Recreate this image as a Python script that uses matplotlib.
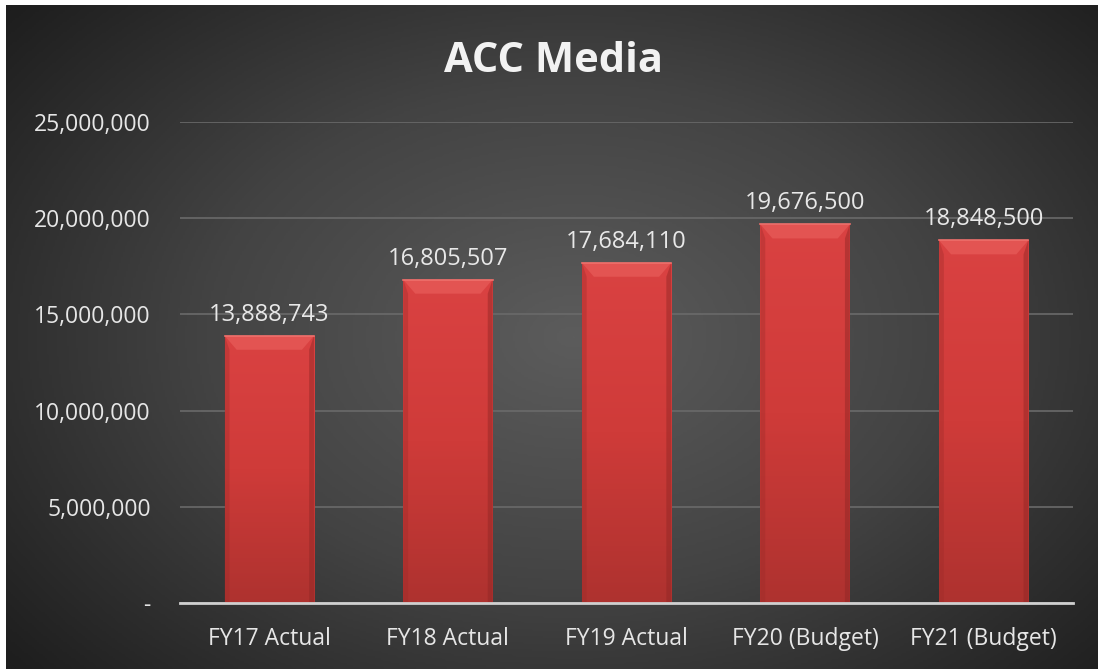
import matplotlib
matplotlib.use('Agg')
import matplotlib.pyplot as plt
import numpy as np
from matplotlib.patches import Polygon
from matplotlib.colors import LinearSegmentedColormap

categories = ["FY17 Actual", "FY18 Actual", "FY19 Actual", "FY20 (Budget)", "FY21 (Budget)"]
values = [13888743, 16805507, 17684110, 19676500, 18848500]
yticks = [0, 5000000, 10000000, 15000000, 20000000, 25000000]
ytick_labels = ["-", "5,000,000", "10,000,000", "15,000,000", "20,000,000", "25,000,000"]

plt.rcParams['font.family'] = ['Open Sans', 'DejaVu Sans']

fig = plt.figure(figsize=(10.98, 6.69), dpi=100)
fig.patch.set_facecolor('white')

# radial gradient background (white strip on left/top like the screenshot)
bg = fig.add_axes([6 / 1098, 0, 1 - 6 / 1098, 1 - 5 / 669])
bg.set_axis_off()
yy, xx = np.mgrid[0:1:300j, 0:1:500j]
r = np.sqrt(((xx - 0.52) / 0.75) ** 2 + ((yy - 0.5) / 0.85) ** 2)
bg_cmap = LinearSegmentedColormap.from_list('bg', ['#5c5c5c', '#434343', '#1e1e1e'])
bg.imshow(r, cmap=bg_cmap, vmin=0, vmax=0.9, aspect='auto', extent=[0, 1, 0, 1], origin='lower')
bg.set_xlim(0, 1)
bg.set_ylim(0, 1)

ax = fig.add_axes([180 / 1098, 1 - 603 / 669, 893 / 1098, 481 / 669])
ax.patch.set_alpha(0)
x = np.arange(len(categories))
bars = ax.bar(x, values, width=0.5, color='#d23c3c', zorder=3)

ax.set_xlim(-0.5, len(categories) - 0.5)
ax.set_ylim(0, 25000000)

bar_cmap = LinearSegmentedColormap.from_list('bar', ['#ae322f', '#cf3b39', '#da4242'])
grad = np.linspace(0, 1, 256).reshape(-1, 1)
bev_y = 25000000 * 14 / 481
bev_x = 0.5 * 12 / 89
for b, v in zip(bars, values):
    x0 = b.get_x()
    x1 = x0 + b.get_width()
    im = ax.imshow(grad, cmap=bar_cmap, aspect='auto', extent=[x0, x1, 0, v],
                   origin='lower', zorder=3.5)
    im.set_clip_path(b)
    # top bevel
    ax.add_patch(Polygon([[x0, v], [x1, v], [x1 - bev_x, v - bev_y], [x0 + bev_x, v - bev_y]],
                         closed=True, facecolor='#e35452', edgecolor='none', zorder=4))
    # side bevels
    ax.add_patch(Polygon([[x0, v], [x0 + bev_x * 0.4, v - bev_y], [x0 + bev_x * 0.4, 0], [x0, 0]],
                         closed=True, facecolor='#9c2a28', edgecolor='none', zorder=4, alpha=0.35))
    ax.add_patch(Polygon([[x1, v], [x1 - bev_x * 0.4, v - bev_y], [x1 - bev_x * 0.4, 0], [x1, 0]],
                         closed=True, facecolor='#8e2624', edgecolor='none', zorder=4, alpha=0.45))
    ax.plot([x0, x1], [v, v], color='#ee706c', lw=1.2, zorder=4.5)
    ax.text(b.get_x() + b.get_width() / 2, v + 25000000 * 9 / 481, f"{v:,}",
            ha='center', va='bottom', color='#e8e8e8', fontsize=17, zorder=5)

ax.set_yticks(yticks)
ax.set_yticklabels(ytick_labels)
ax.set_xticks(x)
ax.set_xticklabels(categories)
ax.tick_params(axis='both', length=0, colors='#e6e6e6', labelsize=16.5)
ax.tick_params(axis='y', pad=21)
ax.tick_params(axis='x', pad=17)
ax.grid(axis='y', color='#6a6a6a', lw=1.2, zorder=0)
for s in ['top', 'right', 'left']:
    ax.spines[s].set_visible(False)
ax.spines['bottom'].set_color('#d0d0d0')
ax.spines['bottom'].set_linewidth(2)
ax.spines['bottom'].set_zorder(6)

fig.text(553 / 1098, 1 - 62 / 669, "ACC Media", ha='center', va='center',
         color='#f2f2f2', fontsize=30, fontweight='bold')

fig.savefig("out.png", dpi=100, facecolor=fig.get_facecolor())
